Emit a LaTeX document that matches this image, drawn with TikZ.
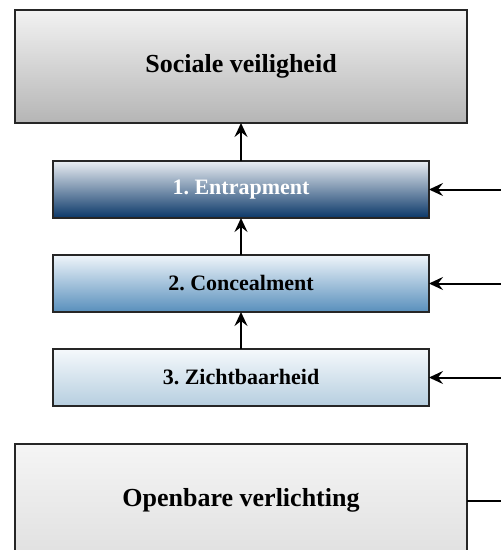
\documentclass[tikz,border=0pt]{standalone}
\usepackage{fontspec}
\setmainfont{Liberation Serif}
\usetikzlibrary{positioning,arrows.meta}

\tikzset{
	bigbox/.style={draw=black!85,line width=2pt,minimum width=452pt,minimum height=113pt,outer sep=0pt,font=\fontsize{26}{29}\selectfont\bfseries},
	stepbox/.style={draw=black!85,line width=2pt,minimum width=376pt,minimum height=57pt,outer sep=0pt,font=\fontsize{22}{25}\selectfont\bfseries},
	pijl/.style={-{Stealth[length=14pt,width=13pt,inset=5pt]},line width=2pt}
}
\frenchspacing

\begin{document}
\begin{tikzpicture}[x=1pt,y=-1pt]
		\useasboundingbox (0,0) rectangle (501,550);
		\clip (0,0) rectangle (501,550);

		\node[bigbox,top color=black!5,bottom color=black!29]	at (241,66.5)	(sociaal)	{Sociale veiligheid};
		\node[stepbox,top color={rgb,255:red,234;green,238;blue,243},bottom color={rgb,255:red,10;green,55;blue,104},text=white,node distance=38pt,below=of sociaal]	(entrap)	{1. Entrapment};
		\node[stepbox,top color={rgb,255:red,239;green,245;blue,250},bottom color={rgb,255:red,88;green,143;blue,188},node distance=37pt,below=of entrap]	(conceal)	{2. Concealment};
		\node[stepbox,top color={rgb,255:red,245;green,249;blue,252},bottom color={rgb,255:red,182;green,206;blue,223},node distance=37pt,below=of conceal]	(zicht)	{3. Zichtbaarheid};
		\node[bigbox,top color=black!4,bottom color=black!12,node distance=38pt,below=of zicht]	(verlichting)	{Openbare verlichting};

		\coordinate[right=80pt of entrap]	(in1);
		\coordinate[right=80pt of conceal]	(in2);
		\coordinate[right=80pt of zicht]	(in3);
		\coordinate[right=45pt of verlichting]	(uit);

		\draw[pijl]	(entrap)	--	(sociaal);
		\draw[pijl]	(conceal)	--	(entrap);
		\draw[pijl]	(zicht)	--	(conceal);
		\draw[pijl]	(in1)	--	(entrap);
		\draw[pijl]	(in2)	--	(conceal);
		\draw[pijl]	(in3)	--	(zicht);
		\draw[line width=2pt]	(verlichting)	--	(uit);
	\end{tikzpicture}
\end{document}
